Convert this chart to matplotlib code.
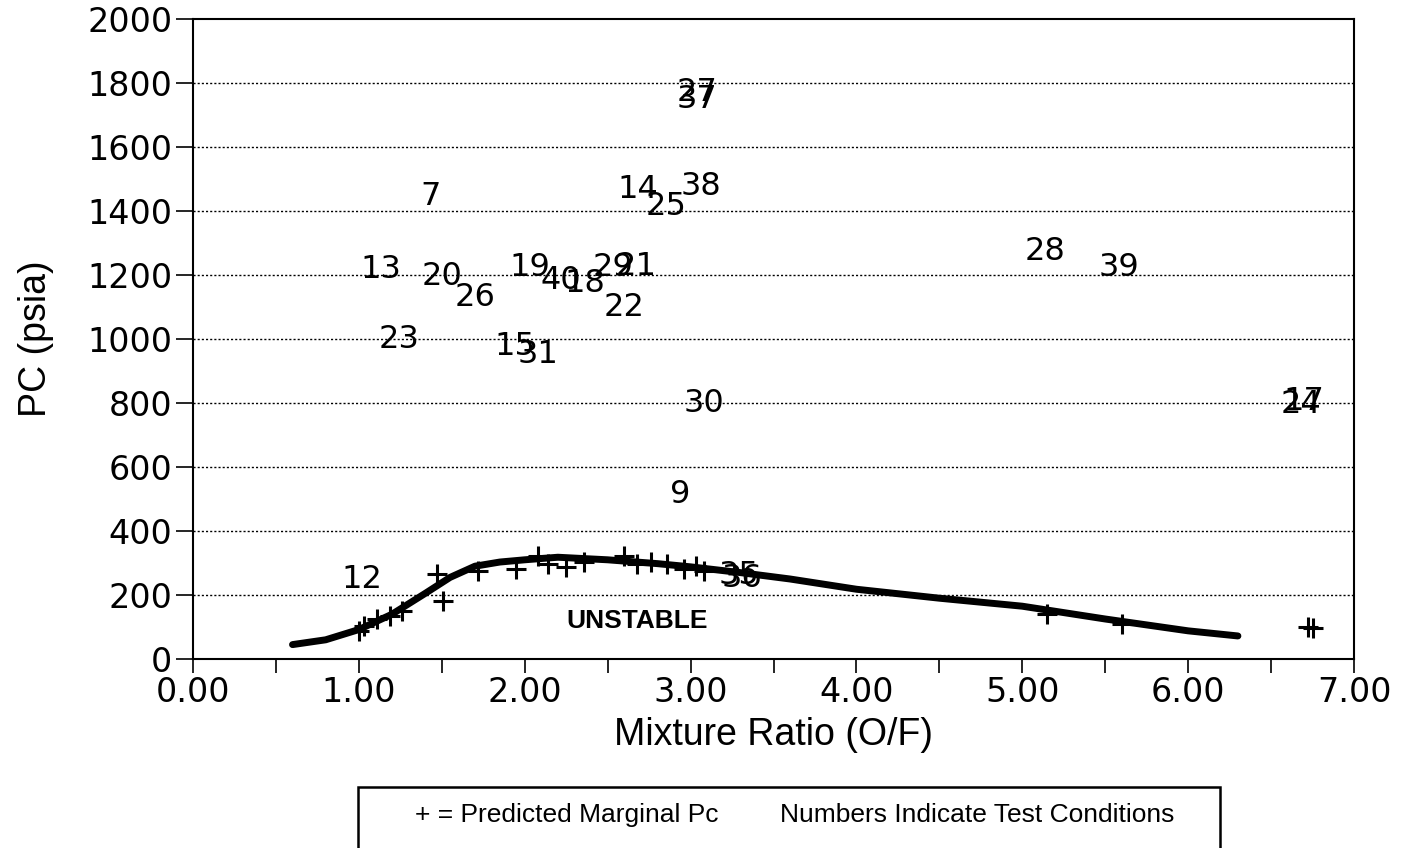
import matplotlib
matplotlib.use("Agg")
import matplotlib.pyplot as plt
from matplotlib.patches import Rectangle
from matplotlib.ticker import MultipleLocator, FormatStrFormatter

plt.rcParams['font.family'] = ['Liberation Sans', 'DejaVu Sans']

# Test condition labels (number, O/F, Pc)
test_ids = ["7", "13", "20", "26", "23", "19", "40", "18", "29", "21", "22",
            "15", "31", "14", "25", "38", "27", "37", "30", "9", "28", "39",
            "24", "17", "12", "36", "35"]
test_mr = [1.43, 1.13, 1.50, 1.70, 1.24, 2.03, 2.22, 2.36, 2.53, 2.67, 2.60,
           1.94, 2.08, 2.68, 2.85, 3.06, 3.04, 3.04, 3.08, 2.94, 5.14, 5.58,
           6.68, 6.70, 1.02, 3.31, 3.29]
test_pc = [1444, 1216, 1194, 1131, 1000, 1225, 1184, 1175, 1222, 1228, 1100,
           978, 953, 1466, 1413, 1478, 1770, 1750, 800, 513, 1272, 1225,
           795, 805, 247, 253, 262]

# Stability boundary curve
curve_mr = [0.60, 0.80, 1.00, 1.20, 1.40, 1.55, 1.70, 1.85, 2.00, 2.20, 2.50,
            2.80, 3.00, 3.30, 3.60, 4.00, 4.50, 5.00, 5.50, 6.00, 6.30]
curve_pc = [45, 60, 92, 140, 205, 255, 290, 303, 310, 318, 310,
            298, 288, 270, 250, 218, 190, 165, 125, 88, 72]

# Predicted marginal Pc points
pred_mr = [1.00, 1.03, 1.11, 1.19, 1.26, 1.47, 1.51, 1.72, 1.95, 2.08, 2.14,
           2.25, 2.36, 2.60, 2.68, 2.76, 2.86, 2.96, 3.03, 3.08, 5.15, 5.60,
           6.72, 6.75]
pred_pc = [88, 103, 125, 134, 150, 265, 181, 275, 281, 322, 297,
           287, 303, 322, 297, 303, 297, 281, 290, 275, 140, 109,
           100, 96]

DIGIT_FONT = ['DejaVu Sans']

fig = plt.figure(figsize=(14.05, 8.48), dpi=100)
ax = fig.add_axes([193/1405, 1-659/848, (1354-193)/1405, (659-19)/848])

ax.set_xlim(0, 7)
ax.set_ylim(0, 2000)

for y in range(200, 2000, 200):
    ax.axhline(y, color='black', lw=1.0, ls=(0, (1.5, 1.5)), zorder=1)

ax.plot(curve_mr, curve_pc, color='black', lw=5, solid_capstyle='round',
        solid_joinstyle='round', zorder=3)
ax.plot(pred_mr, pred_pc, ls='none', marker='+', color='black', ms=14, mew=2.2,
        zorder=4)

for t, x, y in zip(test_ids, test_mr, test_pc):
    ax.text(x, y, t, fontsize=23, ha='center', va='center', color='black',
            family=DIGIT_FONT, zorder=5)

ax.text(2.68, 119, "UNSTABLE", fontsize=19, fontweight='bold', ha='center',
        va='center', color='black', zorder=5)

ax.xaxis.set_major_locator(MultipleLocator(1.0))
ax.xaxis.set_minor_locator(MultipleLocator(0.5))
ax.xaxis.set_major_formatter(FormatStrFormatter('%.2f'))
ax.yaxis.set_major_locator(MultipleLocator(200))
ax.yaxis.set_major_formatter(FormatStrFormatter('%d'))
ax.tick_params(axis='x', which='both', direction='out', length=10, width=1.2,
               labelsize=24, pad=2)
ax.tick_params(axis='y', which='major', direction='out', length=12, width=1.2,
               labelsize=24, pad=3)
for lab in ax.get_xticklabels() + ax.get_yticklabels():
    lab.set_family(DIGIT_FONT)
for s in ax.spines.values():
    s.set_linewidth(1.5)

ax.set_xlabel("Mixture Ratio (O/F)", fontsize=27, labelpad=6)
ax.set_ylabel("PC (psia)", fontsize=27, labelpad=24)

rect = Rectangle((358/1405, -0.02), (1220-358)/1405, 0.02 + (1-787/848),
                 transform=fig.transFigure, fill=False, edgecolor='black',
                 lw=1.8, clip_on=False)
fig.patches.append(rect)
fig.text(567/1405, 1-815/848, "+ = Predicted Marginal Pc", fontsize=19,
         ha='center', va='center')
fig.text(977/1405, 1-815/848, "Numbers Indicate Test Conditions", fontsize=19,
         ha='center', va='center')

fig.savefig("out.png", dpi=100, facecolor='white')
